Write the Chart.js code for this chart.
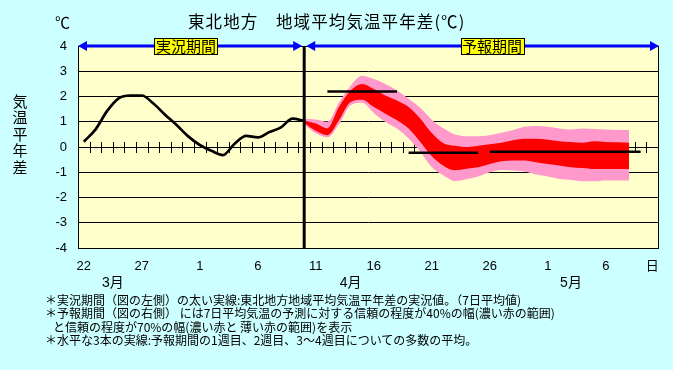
<!DOCTYPE html>
<html><head><meta charset="utf-8">
<script src="https://cdn.jsdelivr.net/npm/chart.js@4"></script>
<style>
html,body{margin:0;padding:0;background:#CCFFFF;}
#wrap{position:relative;width:673px;height:370px;overflow:hidden;background:#CCFFFF;}
#wrap canvas{position:absolute;left:0;top:0;}
.t{position:absolute;white-space:nowrap;font-family:"Noto Sans CJK JP",sans-serif;color:#000;}
.fn{font-size:12px;line-height:13px;}
</style></head><body>
<div id="wrap">
<canvas id="c" width="673" height="370"></canvas>
<div class="t" style="left:188px;top:9px;font-size:16.5px;line-height:24px;letter-spacing:1.1px;">東北地方　地域平均気温平年差(℃)</div>
<div class="t" style="left:55px;top:11px;font-size:15px;line-height:22px;">℃</div>
<div class="t fn" style="left:45px;top:293px;">＊実況期間（図の左側）の太い実線:東北地方地域平均気温平年差の実況値。（7日平均値)</div>
<div class="t fn" style="left:45px;top:306px;">＊予報期間（図の右側） には7日平均気温の予測に対する信頼の程度が40%の幅(濃い赤の範囲)</div>
<div class="t fn" style="left:53px;top:320px;">と信頼の程度が70%の幅(濃い赤と 薄い赤の範囲)を表示</div>
<div class="t fn" style="left:45px;top:333px;">＊水平な3本の実線:予報期間の1週目、2週目、3～4週目についての多数の平均。</div>
</div>
<script>
// ---- data ----
const categories = ['3/22','3/23','3/24','3/25','3/26','3/27','3/28','3/29','3/30','3/31',
 '4/1','4/2','4/3','4/4','4/5','4/6','4/7','4/8','4/9','4/10','4/11','4/12','4/13','4/14','4/15',
 '4/16','4/17','4/18','4/19','4/20','4/21','4/22','4/23','4/24','4/25','4/26','4/27','4/28','4/29','4/30',
 '5/1','5/2','5/3','5/4','5/5','5/6','5/7','5/8','5/9','5/10'];
const tickLabels = ['22','','','','','27','','','','','1','','','','','6','','','','',
 '11','','','','','16','','','','','21','','','','','26','','','','','1','','','','','6','','','','日'];
const monthNames = ['3月','4月','5月'];
const monthAt = [2.5, 23, 42];
const yTicks = [-4,-3,-2,-1,0,1,2,3,4];
const yTitle = '気温平年差';
const phaseNames = ['実況期間','予報期間'];
const phaseAt = [8.8, 35.2];

const observed = [0.21,0.69,1.42,1.93,2.04,2.04,1.72,1.28,0.87,0.42,0.08,-0.15,-0.32,0.13,0.44,0.38,0.59,0.78,1.12,1.03];
const forecastStart = 19;
const pinkTop    = [1.12,1.09,1.00,1.76,2.43,2.82,2.69,2.50,2.24,1.91,1.55,1.08,0.74,0.50,0.43,0.43,0.47,0.56,0.67,0.80,0.83,0.80,0.73,0.69,0.73,0.71,0.69,0.67,0.67];
const redTop     = [1.05,0.93,0.74,1.59,2.24,2.50,2.30,2.04,1.84,1.58,1.13,0.55,0.15,0.05,0.00,0.05,0.11,0.17,0.27,0.33,0.33,0.29,0.23,0.20,0.17,0.23,0.20,0.19,0.17];
const redBottom  = [0.95,0.64,0.47,1.06,1.78,1.87,1.58,1.32,1.06,0.73,0.21,-0.37,-0.74,-0.92,-0.86,-0.80,-0.67,-0.56,-0.53,-0.53,-0.60,-0.67,-0.73,-0.80,-0.83,-0.87,-0.87,-0.87,-0.87];
const pinkBottom = [0.88,0.54,0.38,0.90,1.65,1.75,1.35,0.99,0.73,0.34,-0.18,-0.80,-1.12,-1.35,-1.28,-1.17,-1.00,-0.91,-0.93,-0.97,-1.09,-1.17,-1.27,-1.31,-1.36,-1.36,-1.33,-1.33,-1.33];
const aveValues = [2.2, -0.23, -0.19];
const aveFrom = ['4/12','4/19','4/26'];
const aveTo   = ['4/18','4/25','5/9'];

// ---- build tables ----
const N = categories.length;
const padTo = (arr, start) => { const out = new Array(N).fill(null); arr.forEach((v,i)=>{ out[start+i]=v; }); return out; };
const aveSeries = aveValues.map((v,k)=>{ const a = categories.indexOf(aveFrom[k]), b = categories.indexOf(aveTo[k]);
  return categories.map((c,i)=> (i>=a && i<=b) ? v : null); });

const FONT = '"Liberation Sans","Noto Sans CJK JP",sans-serif';
const JFONT = '"Noto Sans CJK JP",sans-serif';

const decor = {
  id:'decor',
  beforeDraw(chart){
    const {ctx, chartArea:a} = chart;
    ctx.save(); ctx.fillStyle='#FFFFCC'; ctx.fillRect(a.left,a.top,a.right-a.left,a.bottom-a.top); ctx.restore();
  },
  beforeDatasetsDraw(chart){
    const {ctx} = chart; const xs = chart.scales.x, ys = chart.scales.y;
    const y0 = Math.round(ys.getPixelForValue(0));
    ctx.save(); ctx.strokeStyle='#000'; ctx.lineWidth=1;
    for(let k=1;k<N;k++){
      const px = Math.round(xs.getPixelForValue(k-0.5))+0.5;
      ctx.beginPath(); ctx.moveTo(px,y0-5); ctx.lineTo(px,y0+6); ctx.stroke();
    }
    ctx.restore();
  },
  afterDatasetsDraw(chart){
    const {ctx, chartArea:a} = chart; const xs = chart.scales.x;
    ctx.save(); ctx.strokeStyle='#000';
    ctx.lineWidth=1; ctx.beginPath(); ctx.moveTo(a.right+0.5,a.top); ctx.lineTo(a.right+0.5,a.bottom); ctx.stroke();
    const sx = xs.getPixelForValue(forecastStart);
    ctx.lineWidth=3; ctx.beginPath(); ctx.moveTo(sx,a.top); ctx.lineTo(sx,a.bottom); ctx.stroke();
    ctx.restore();
  },
  afterDraw(chart){
    const {ctx, chartArea:a} = chart; const xs = chart.scales.x;
    const sx = xs.getPixelForValue(forecastStart);
    const y = a.top;
    ctx.save();
    ctx.fillStyle='#0000FF'; ctx.strokeStyle='#0000FF'; ctx.lineWidth=3;
    const head = (x, dir) => { ctx.beginPath(); ctx.moveTo(x,y); ctx.lineTo(x+dir*9,y-5); ctx.lineTo(x+dir*9,y+5); ctx.closePath(); ctx.fill(); };
    const seg = (x1,x2) => { ctx.beginPath(); ctx.moveTo(x1+4,y); ctx.lineTo(x2-4,y); ctx.stroke(); head(x1,1); head(x2,-1); };
    seg(a.left, sx-2); seg(sx+2, a.right+1);
    // phase boxes
    ctx.font = '15px '+JFONT; ctx.textAlign='center'; ctx.textBaseline='middle';
    phaseNames.forEach((t,k)=>{
      const cx = xs.getPixelForValue(phaseAt[k]); const w = 63, h = 16;
      ctx.fillStyle='#FFFF00'; ctx.fillRect(Math.round(cx-w/2)+0.5, Math.round(y-8)+0.5, w, h);
      ctx.strokeStyle='#000'; ctx.lineWidth=1; ctx.strokeRect(Math.round(cx-w/2)+0.5, Math.round(y-8)+0.5, w, h);
      ctx.fillStyle='#000'; ctx.fillText(t, cx, y+0.5);
    });
    // month labels
    ctx.font = '14px '+FONT; ctx.fillStyle='#000';
    monthNames.forEach((m,k)=>{ ctx.fillText(m, xs.getPixelForValue(monthAt[k]), 283); });
    // y axis title, vertical
    ctx.font = '15px '+JFONT;
    [...yTitle].forEach((ch,k)=>{ ctx.fillText(ch, 20, 101 + k*16.5); });
    ctx.restore();
  }
};

new Chart(document.getElementById('c'), {
  type:'line',
  data:{
    labels: categories,
    datasets:[
      {data: observed.concat(new Array(N-observed.length).fill(null)), borderColor:'#000', borderWidth:2.7, cubicInterpolationMode:'monotone', fill:false},
      {data: aveSeries[0], borderColor:'#000', borderWidth:2.5, fill:false},
      {data: aveSeries[1], borderColor:'#000', borderWidth:2.5, fill:false},
      {data: aveSeries[2], borderColor:'#000', borderWidth:2.5, fill:false},
      {data: padTo(redTop, forecastStart), borderColor:'rgba(0,0,0,0)', borderWidth:1, backgroundColor:'#FF0000', fill:'+1', cubicInterpolationMode:'monotone'},
      {data: padTo(redBottom, forecastStart), borderColor:'rgba(0,0,0,0)', borderWidth:1, fill:false, cubicInterpolationMode:'monotone'},
      {data: padTo(pinkTop, forecastStart), borderColor:'rgba(0,0,0,0)', borderWidth:1, backgroundColor:'#FF99CC', fill:'+1', cubicInterpolationMode:'monotone'},
      {data: padTo(pinkBottom, forecastStart), borderColor:'rgba(0,0,0,0)', borderWidth:1, fill:false, cubicInterpolationMode:'monotone'}
    ]
  },
  options:{
    responsive:false, animation:false, devicePixelRatio:1,
    layout:{padding:{left:0, top:46, right:15, bottom:92}},
    elements:{point:{radius:0, hitRadius:0}, line:{borderCapStyle:'butt'}},
    plugins:{legend:{display:false}, tooltip:{enabled:false}, title:{display:false}},
    scales:{
      x:{type:'category', offset:true,
         grid:{display:false, drawTicks:false},
         border:{display:true, color:'#000', width:1},
         ticks:{autoSkip:false, maxRotation:0, minRotation:0, padding:11, color:'#000', font:{size:13, family:FONT},
                callback:(v,i)=>tickLabels[i]},
         afterFit:(s)=>{ s.height = 30; }},
      y:{min:yTicks[0], max:yTicks[yTicks.length-1],
         afterBuildTicks:(s)=>{ s.ticks = yTicks.map(v=>({value:v})); },
         grid:{color:'#000', lineWidth:1, drawTicks:false},
         border:{display:true, color:'#000', width:1},
         ticks:{padding:11, color:'#000', font:{size:13, family:FONT}},
         afterFit:(s)=>{ s.width = 78; }}
    }
  },
  plugins:[decor]
});
</script>
</body></html>
